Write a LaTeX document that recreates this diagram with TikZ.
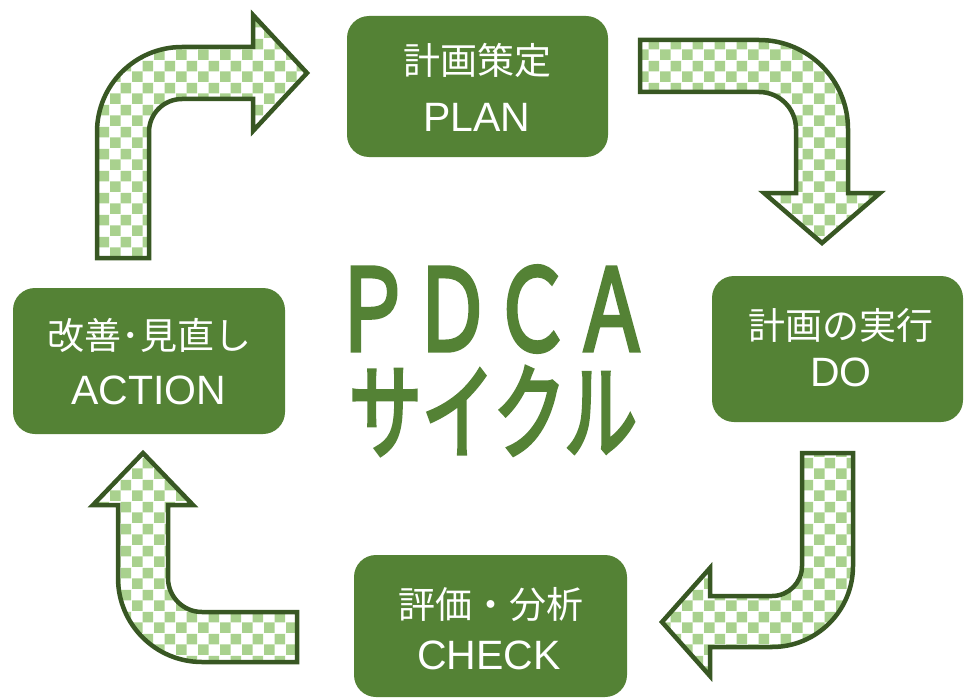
\documentclass[tikz,border=0pt]{standalone}
\usepackage{fontspec}
\usetikzlibrary{patterns.meta}
\newfontfamily\jpfont{Noto Sans CJK JP}
\newfontfamily\jpbold[FakeBold=4]{Noto Sans CJK JP}
\newfontfamily\enfont{Liberation Sans}
\definecolor{boxgreen}{RGB}{84,130,53}
\definecolor{edgegreen}{RGB}{56,87,35}
\definecolor{checkgreen}{RGB}{169,209,142}
\tikzdeclarepattern{
  name=checkerbox,
  type=uncolored,
  bounding box={(0pt,0pt) and (22pt,22pt)},
  tile size={(22pt,22pt)},
  code={\fill (0pt,0pt) rectangle (11pt,11pt); \fill (11pt,11pt) rectangle (22pt,22pt);}
}
\tikzset{
  stepbox/.style={fill=boxgreen, rounded corners=22pt, inner sep=0pt},
  jptext/.style={text=white, font=\jpfont\fontsize{37}{40}\selectfont, inner sep=0pt},
  entext/.style={text=white, font=\enfont\fontsize{41}{44}\selectfont, inner sep=0pt},
  bigtext/.style={text=boxgreen, inner sep=0pt},
  bentarrow/.style={draw=edgegreen, line width=4.5pt, line join=miter,
    preaction={fill=white},
    preaction={pattern=checkerbox, pattern color=checkgreen}},
}
\begin{document}
\begin{tikzpicture}[x=1pt, y=-1pt]
\useasboundingbox (0,0) rectangle (965,698);

% boxes
\node[stepbox, minimum width=261pt, minimum height=141pt] (plan) at (477.5,86.5) {};
\node[stepbox, minimum width=251pt, minimum height=146pt] (do) at (837.5,349) {};
\node[stepbox, minimum width=272pt, minimum height=146pt] (action) at (149,361) {};
\node[stepbox, minimum width=273pt, minimum height=142pt] (check) at (490.5,626) {};

% box texts
\node[jptext] (planjp) at (477,60) {計画策定};
\node[entext] (planen) at (477,117) {PLAN};
\node[jptext] (dojp) at (841,325) {計画の実行};
\node[entext] (doen) at (841,372) {DO};
\node[jptext] (actionjp) at (149.5,335) {改善･見直し};
\node[entext] (actionen) at (148.5,390) {ACTION};
\node[jptext] (checkjp) at (491,605) {評価・分析};
\node[entext] (checken) at (489,655) {CHECK};

% centre title
\node[bigtext, font=\jpbold\fontsize{80}{80}\selectfont] (pdca) at (492,309) {\scalebox{1}[1.41]{ＰＤＣＡ}};
\node[bigtext, font=\jpbold\fontsize{73}{73}\selectfont] (cycle) at (493,411) {\scalebox{1}[1.42]{サイクル}};

% arrow ACTION -> PLAN
\path[bentarrow] (97,258) -- (97,132) arc[start angle=180, end angle=270, radius=85]
  -- (253,47) -- (253,15) -- (307,73) -- (253,131) -- (253,99) -- (182,99)
  arc[start angle=270, end angle=180, radius=33] -- (149,258) -- cycle;

% arrow PLAN -> DO
\path[bentarrow] (640,40) -- (759,40) arc[start angle=270, end angle=360, radius=89]
  -- (848,193) -- (880,193) -- (822,243) -- (764,193) -- (796,193) -- (796,129)
  arc[start angle=0, end angle=-90, radius=37] -- (640,92) -- cycle;

% arrow DO -> CHECK
\path[bentarrow] (802,453) -- (802,566) arc[start angle=0, end angle=90, radius=30]
  -- (710,596) -- (710,568) -- (662,622) -- (710,676) -- (710,647) -- (772,647)
  arc[start angle=90, end angle=0, radius=81] -- (853,453) -- cycle;

% arrow CHECK -> ACTION
\path[bentarrow] (297,612) -- (202,612) arc[start angle=90, end angle=180, radius=34]
  -- (168,505) -- (193,505) -- (143,453) -- (93,505) -- (118,505) -- (118,578)
  arc[start angle=180, end angle=90, radius=84] -- (297,662) -- cycle;
\end{tikzpicture}
\end{document}
